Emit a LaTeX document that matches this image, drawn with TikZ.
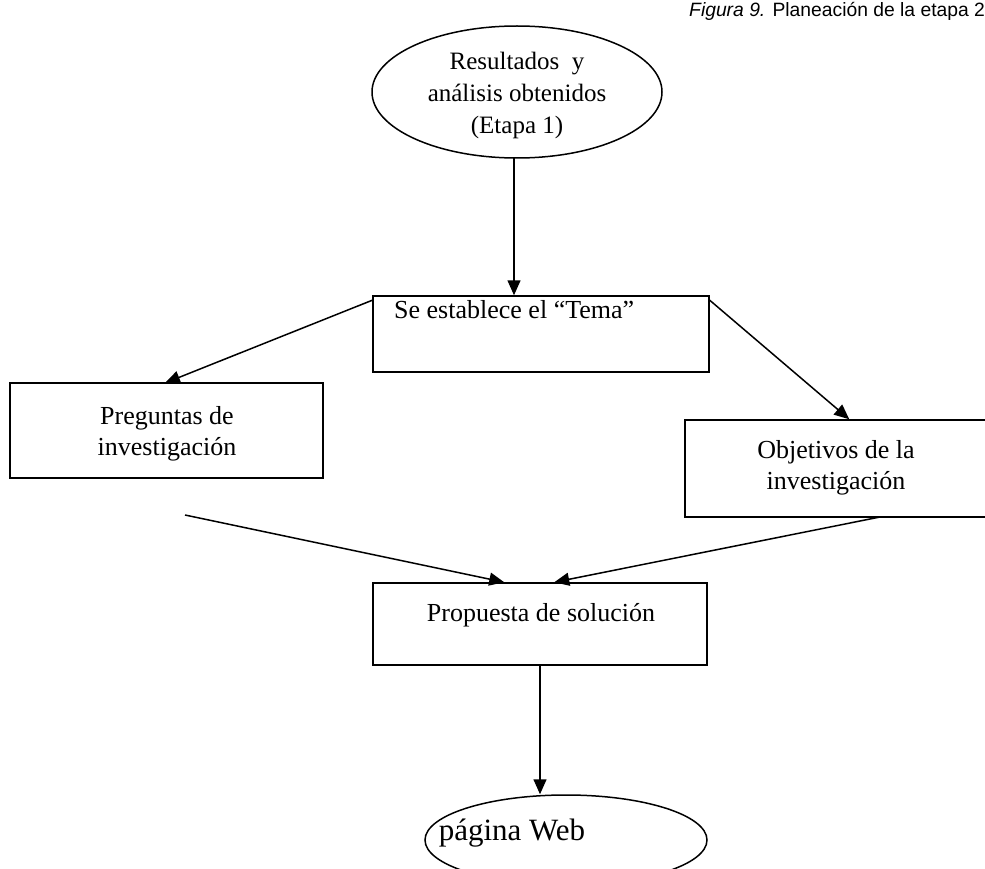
\documentclass[tikz,border=0pt]{standalone}
\usepackage{fontspec}
\setmainfont{Liberation Serif}
\newfontfamily\arialfont{Liberation Sans}
\usetikzlibrary{arrows.meta,shapes.geometric}
\tikzset{
  box/.style={draw, line width=1.5pt, minimum width=#1, inner sep=0pt},
  oval/.style={draw, ellipse, line width=1.5pt, inner sep=0pt},
  txt/.style={inner sep=0pt, align=center, font=\fontsize{26}{31}\selectfont},
  conn/.style={line width=1.5pt, -{Triangle[length=15pt,width=13pt]}},
  plain/.style={line width=1.5pt}
}
\begin{document}
\begin{tikzpicture}[x=1pt,y=-1pt]
\useasboundingbox (0,0) rectangle (985,869);
% title
\node[anchor=base west, inner sep=0pt, font=\arialfont\fontsize{19.3}{23}\selectfont] (title) at (689,17) {\textit{Figura 9.} Planeación de la etapa 2};
% top ellipse
\node[oval, minimum width=290pt, minimum height=132pt] (res) at (517,92) {};
\node[txt, font=\fontsize{25}{32}\selectfont] (restxt) at (517,95) {Resultados~ y\\análisis obtenidos\\(Etapa 1)};
% tema box
\node[box=336pt, minimum height=76pt] (tema) at (541,334) {};
\node[txt, anchor=base west] (tematxt) at (394,318) {Se establece el “Tema”};
% left box
\node[box=313pt, minimum height=95pt] (preg) at (166.5,430.5) {};
\node[txt] (pregtxt) at (167,434) {Preguntas de\\investigación};
% right box
\node[box=305pt, minimum height=97pt] (obj) at (837.5,468.5) {};
\node[txt] (objtxt) at (836,468) {Objetivos de la\\investigación};
% propuesta box
\node[box=334pt, minimum height=82pt] (prop) at (540,624) {};
\node[txt, anchor=base] (proptxt) at (541,621) {Propuesta de solución};
% bottom ellipse
\node[oval, minimum width=282pt, minimum height=90pt] (web) at (566,840) {};
\node[txt, font=\fontsize{31}{36}\selectfont, anchor=base] (webtxt) at (512,840) {página Web};
% connectors
\coordinate (c1) at (514,158);
\draw[conn] (c1) -- (c1 |- tema.north);
\coordinate (tl) at ([yshift=-5pt]tema.north west);
\coordinate (tr) at ([yshift=-5pt]tema.north east);
\draw[conn] (tl) -- (165,383) coordinate (pregin);
\draw[conn] (tr) -- ([xshift=165pt]obj.north west);
\coordinate (pregout) at (185,515);
\coordinate (objout) at (880,517);
\draw[conn] (pregout) -- ([xshift=132pt]prop.north west);
\draw[conn] (objout) -- ([xshift=182pt]prop.north west);
\coordinate (p1) at (540,665);
\draw[conn] (p1) -- (p1 |- web.north);
\end{tikzpicture}
\end{document}
